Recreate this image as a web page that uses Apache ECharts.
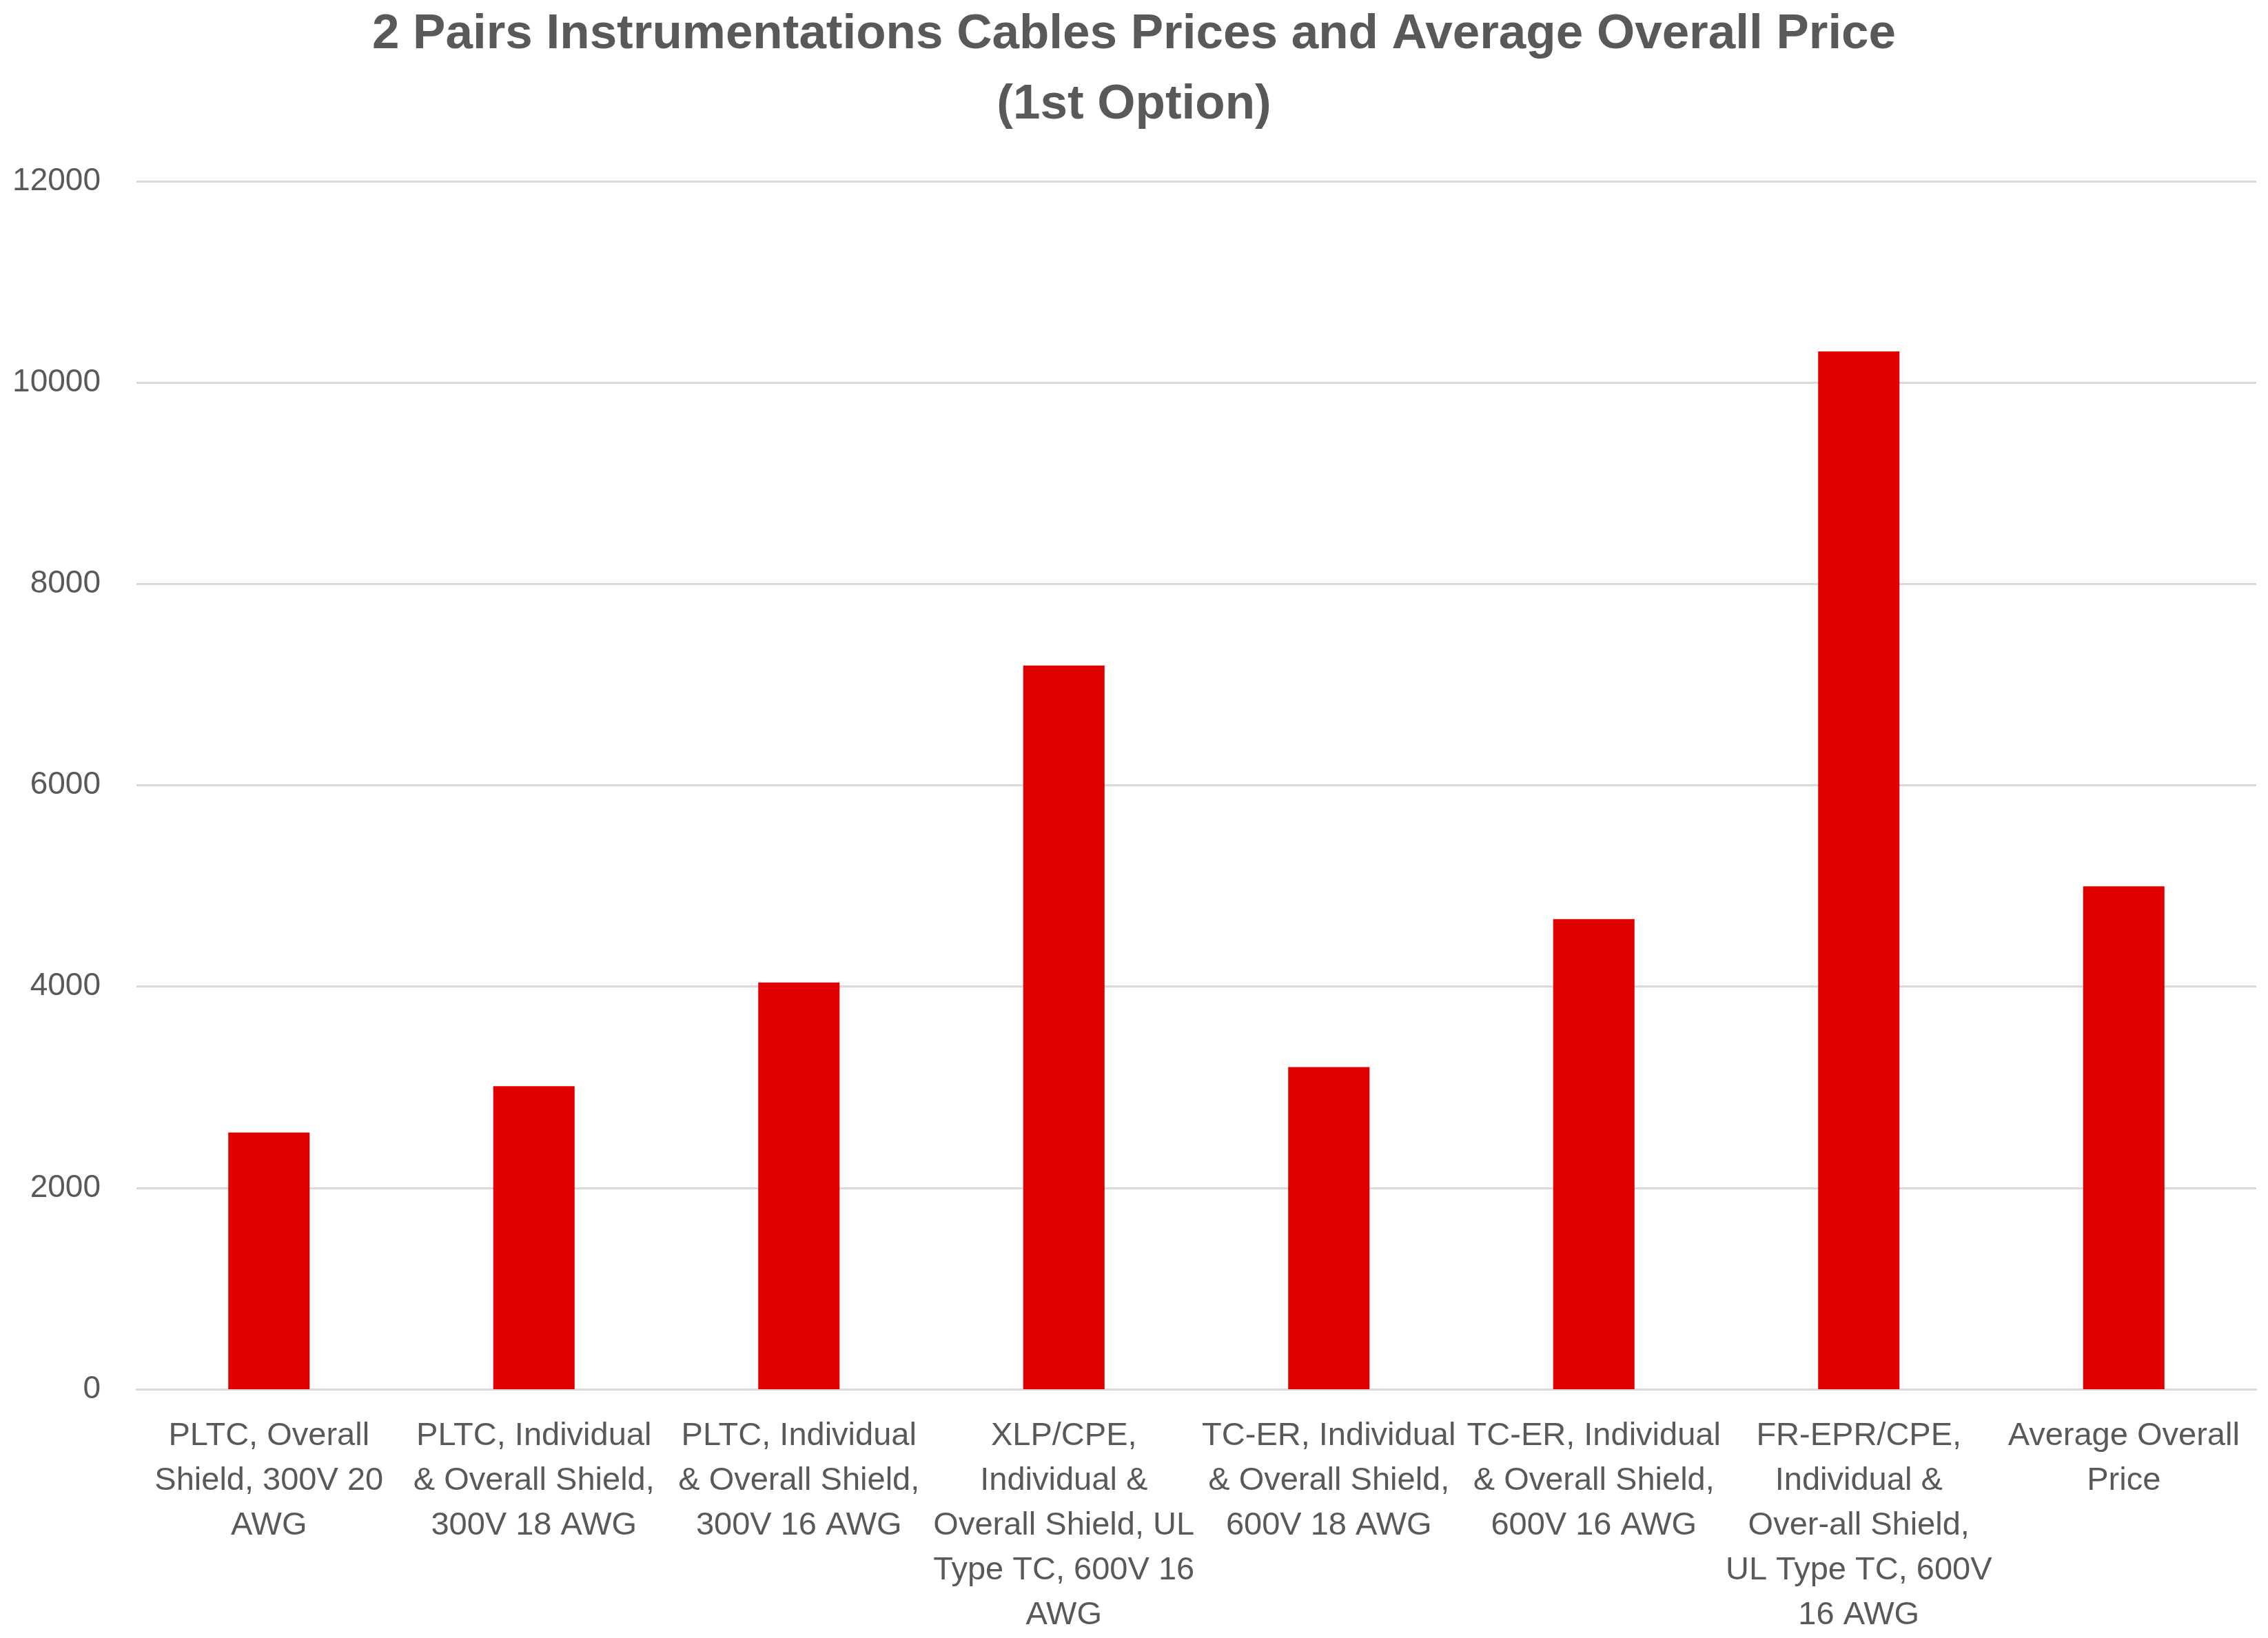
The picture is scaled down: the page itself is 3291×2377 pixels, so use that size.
<!DOCTYPE html>
<html>
<head>
<meta charset="utf-8">
<title>2 Pairs Instrumentations Cables Prices</title>
<script src="https://cdn.jsdelivr.net/npm/echarts@6/dist/echarts.min.js"></script>
<style>
  html, body { margin: 0; padding: 0; background: #fff; }
  #chart { width: 3291px; height: 2377px; }
</style>
</head>
<body>
<div id="chart"></div>
<script>
// cable types (line breaks as they wrap in the original chart)
var categories = [
  'PLTC, Overall\nShield, 300V 20\nAWG',
  'PLTC, Individual\n& Overall Shield,\n300V 18 AWG',
  'PLTC, Individual\n& Overall Shield,\n300V 16 AWG',
  'XLP/CPE,\nIndividual &\nOverall Shield, UL\nType TC, 600V 16\nAWG',
  'TC-ER, Individual\n& Overall Shield,\n600V 18 AWG',
  'TC-ER, Individual\n& Overall Shield,\n600V 16 AWG',
  'FR-EPR/CPE,\nIndividual &\nOver-all Shield,\nUL Type TC, 600V\n16 AWG',
  'Average Overall\nPrice'
]
var prices = [2550, 3010, 4040, 7190, 3200, 4670, 10310, 4996]
var yTicks = [0, 2000, 4000, 6000, 8000, 10000, 12000]

var textColor = '#595959'
var gridColor = '#d9d9d9'
var narrow = '"Liberation Sans Narrow", "Liberation Sans", sans-serif'

var mychart = echarts.init(document.getElementById('chart'))
var option = {
  animation: false,
  backgroundColor: '#ffffff',
  title: {
    text: '2 Pairs Instrumentations Cables Prices and Average Overall Price\n(1st Option)',
    left: 'center',
    top: -6,
    textStyle: {
      color: textColor,
      fontFamily: narrow,
      fontWeight: 'bold',
      fontSize: 71,
      lineHeight: 102,
      align: 'center'
    }
  },
  grid: {
    left: 198,
    right: 17,
    top: 263,
    bottom: 360,
    containLabel: false
  },
  xAxis: {
    type: 'category',
    data: categories,
    axisLine: { lineStyle: { color: gridColor, width: 3 } },
    axisTick: { show: false },
    axisLabel: {
      interval: 0,
      margin: 36,
      color: textColor,
      fontFamily: narrow,
      fontSize: 47,
      lineHeight: 65,
      align: 'center'
    }
  },
  yAxis: {
    type: 'value',
    min: yTicks[0],
    max: yTicks[yTicks.length - 1],
    interval: 2000,
    axisLine: { show: false },
    axisTick: { show: false },
    axisLabel: {
      margin: 52,
      color: textColor,
      fontFamily: '"Liberation Sans", sans-serif',
      fontSize: 46,
      formatter: function (v) { return String(v) }
    },
    splitLine: { lineStyle: { color: gridColor, width: 3 } }
  },
  series: [
    {
      name: 'Price',
      type: 'bar',
      data: prices,
      barWidth: '30.7%',
      itemStyle: { color: '#e00000' }
    }
  ]
}
mychart.setOption(option)
</script>
</body>
</html>
